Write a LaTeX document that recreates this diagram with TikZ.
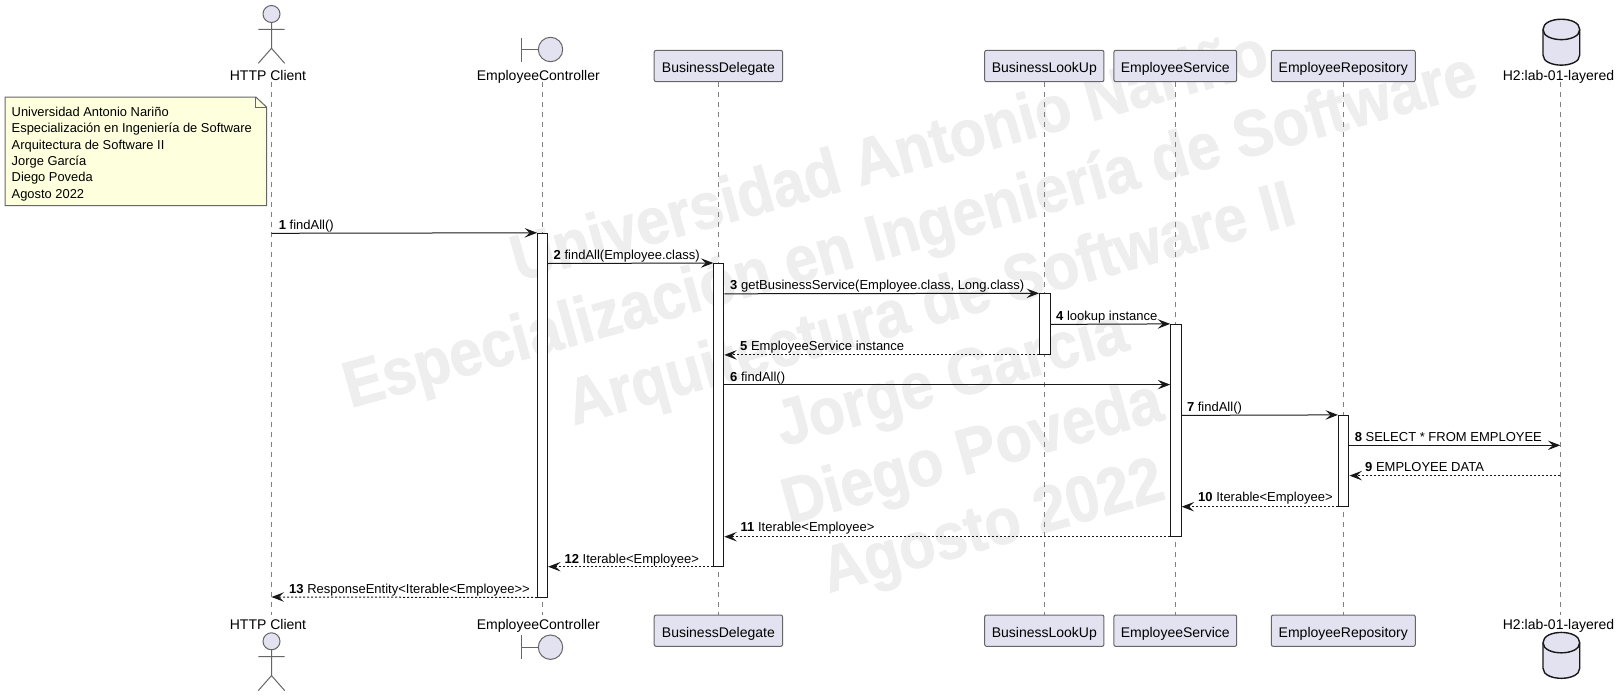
\documentclass[tikz,border=0pt]{standalone}
\usepackage{fontspec}
\setmainfont{Liberation Sans}
\newfontfamily\wmfont{Liberation Sans}[BoldFeatures={FakeStretch=0.91,FakeBold=1.2}]
\usetikzlibrary{arrows.meta}
\definecolor{partfill}{HTML}{E2E2F0}
\definecolor{partline}{HTML}{181818}
\definecolor{softline}{HTML}{666666}
\definecolor{lifeline}{HTML}{808080}
\definecolor{notefill}{HTML}{FEFFDD}
\definecolor{wmark}{HTML}{EEEEEE}
\tikzset{
  x=1pt,y=-1pt,
  part/.style={draw=softline,fill=partfill,line width=1pt,rounded corners=2pt,inner sep=0pt,minimum height=31.4pt,text height=16pt,text depth=2.6pt,font=\fontsize{14}{16}\selectfont},
  lbl/.style={inner sep=0pt,anchor=base,font=\fontsize{14}{16}\selectfont},
  icon/.style={draw=softline,fill=partfill,line width=1pt},
  iconline/.style={draw=softline,line width=1pt},
  dbshape/.style={draw=partline,fill=partfill,line width=1.4pt},
  life/.style={draw=lifeline,line width=1pt,dash pattern=on 5pt off 5pt},
  act/.style={draw=partline,fill=white,line width=1pt,inner sep=0pt},
  msg/.style={draw=partline,line width=1pt,-{Stealth[length=12.5pt,width=9.5pt,inset=5pt]}},
  ret/.style={msg,dash pattern=on 2pt off 2pt},
  mtext/.style={inner sep=0pt,anchor=base west,font=\fontsize{13}{15}\selectfont},
}
\newcommand{\mnum}[1]{\textbf{#1}}
\begin{document}
\begin{tikzpicture}
\useasboundingbox (0,0) rectangle (1620,696);
\fill[white] (0,0) rectangle (1620,696);
% watermark
\node[rotate=15.6,align=center,inner sep=0pt,text=wmark,font=\wmfont\fontsize{65}{76.7}\selectfont\bfseries] (wm) at (942,345)
 {Universidad Antonio Nariño\\Especialización en Ingeniería de Software\\Arquitectura de Software II\\Jorge García\\Diego Poveda\\Agosto 2022};
% head nodes
\coordinate (ht) at (271.5,81.7); \coordinate (hb) at (271.5,615);
\coordinate (ct) at (542.3,81.7); \coordinate (cb) at (542.3,615);
\coordinate (dt) at (1560.3,81.7); \coordinate (db) at (1560.3,615);
\node[part,minimum width=128.4pt] (bdt) at (718.4,66) {BusinessDelegate};
\node[part,minimum width=119.3pt] (blt) at (1044.3,66) {BusinessLookUp};
\node[part,minimum width=122.8pt] (est) at (1175.3,66) {EmployeeService};
\node[part,minimum width=144pt] (ert) at (1343.3,66) {EmployeeRepository};
\node[part,minimum width=128.4pt] (bdb) at (718.4,630.7) {BusinessDelegate};
\node[part,minimum width=119.3pt] (blb) at (1044.3,630.7) {BusinessLookUp};
\node[part,minimum width=122.8pt] (esb) at (1175.3,630.7) {EmployeeService};
\node[part,minimum width=144pt] (erb) at (1343.3,630.7) {EmployeeRepository};
% lifelines
\draw[life] (ht) -- (hb);
\draw[life] (ct) -- (cb);
\draw[life] (bdt.south) -- (bdb.north);
\draw[life] (blt.south) -- (blb.north);
\draw[life] (est.south) -- (esb.north);
\draw[life] (ert.south) -- (erb.north);
\draw[life] (dt) -- (db);
% labels
\node[lbl] (hl1) at (268,80) {HTTP Client};
\node[lbl] (hl2) at (268,629.5) {HTTP Client};
\node[lbl] (cl1) at (538.3,80) {EmployeeController};
\node[lbl] (cl2) at (538.3,629.5) {EmployeeController};
\node[lbl] (dl1) at (1558.5,80) {H2:lab-01-layered};
\node[lbl] (dl2) at (1558.5,629.5) {H2:lab-01-layered};
% actors
\foreach \o in {0,627.3}{
  \draw[icon] (271.5,14+\o) circle[radius=8.5];
  \draw[iconline] (271.5,22.5+\o) -- (271.5,48.3+\o)
     (258.3,29.3+\o) -- (284.7,29.3+\o)
     (258.3,63.3+\o) -- (271.5,48.3+\o) -- (284.7,63.3+\o);
}
% boundaries
\foreach \o in {0,597.7}{
  \draw[iconline] (521.5,37.5+\o) -- (521.5,61.7+\o)
     (521.5,49.5+\o) -- (538.3,49.5+\o);
  \draw[icon] (550.5,49.5+\o) circle[radius=12.2];
}
% databases
\foreach \o in {0,613.2}{
  \draw[dbshape] (1543,29.5+\o) .. controls (1543,15.8+\o) and (1579.7,15.8+\o) .. (1579.7,29.5+\o)
     -- (1579.7,55+\o) .. controls (1579.7,68.5+\o) and (1543,68.5+\o) .. (1543,55+\o) -- cycle;
  \draw[dbshape,fill=none] (1543,29.5+\o) .. controls (1543,43+\o) and (1579.7,43+\o) .. (1579.7,29.5+\o);
}
% note
\node[inner sep=0pt,minimum width=261pt,minimum height=108pt] (note) at (135.9,151.3) {};
\draw[draw=softline,fill=notefill,line width=1pt]
  (note.north west) -- ([xshift=-10.7pt]note.north east) -- ([yshift=-10pt]note.north east) -- (note.south east) -- (note.south west) -- cycle;
\draw[draw=softline,line width=1pt] ([xshift=-10.7pt]note.north east) -- ([xshift=-10.7pt,yshift=-10pt]note.north east) -- ([yshift=-10pt]note.north east);
\node[inner sep=0pt,anchor=north west,align=left,font=\fontsize{12.9}{16.4}\selectfont] (notetext) at (11.5,106.7)
 {Universidad Antonio Nariño\\Especialización en Ingeniería de Software\\Arquitectura de Software II\\Jorge García\\Diego Poveda\\Agosto 2022};
% activations
\node[act,minimum width=10pt,minimum height=363.7pt] (a1) at (542.6,415.15) {};
\node[act,minimum width=10pt,minimum height=302.7pt] (a2) at (718.8,414.85) {};
\node[act,minimum width=10.5pt,minimum height=60.6pt] (a3) at (1044.8,324.1) {};
\node[act,minimum width=10.5pt,minimum height=211.8pt] (a4) at (1175.9,430.3) {};
\node[act,minimum width=10.5pt,minimum height=90.8pt] (a5) at (1343.7,460.8) {};
\coordinate (dbm8) at (1560.3,445.3); \coordinate (dbm9) at (1560.3,475.6);
\coordinate (hm1) at (271.5,233.3); \coordinate (hm13) at (271.5,597);
% messages
\draw[msg] (hm1) -- (a1.north west);
\draw[msg] (a1.east |- 0,263.5) -- (a2.north west);
\draw[msg] (a2.east |- 0,293.8) -- (a3.north west);
\draw[msg] (a3.east |- 0,324.4) -- (a4.north west);
\draw[ret] (a3.south west) -- (a2.east |- a3.south);
\draw[msg] (a2.east |- 0,384.6) -- (a4.west |- 0,384.6);
\draw[msg] (a4.east |- 0,415.4) -- (a5.north west);
\draw[msg] (a5.east |- 0,445.3) -- (dbm8);
\draw[ret] (dbm9) -- (a5.east |- dbm9);
\draw[ret] (a5.south west) -- (a4.east |- a5.south);
\draw[ret] (a4.south west) -- (a2.east |- a4.south);
\draw[ret] (a2.south west) -- (a1.east |- a2.south);
\draw[ret] (a1.south west) -- (hm13);
% message labels
\node[mtext] (t1) at (278.6,229) {\mnum{1} findAll()};
\node[mtext] (t2) at (553.5,259.2) {\mnum{2} findAll(Employee.class)};
\node[mtext] (t3) at (730,289.5) {\mnum{3} getBusinessService(Employee.class, Long.class)};
\node[mtext] (t4) at (1056,320) {\mnum{4} lookup instance};
\node[mtext] (t5) at (740,350) {\mnum{5} EmployeeService instance};
\node[mtext] (t6) at (730,381) {\mnum{6} findAll()};
\node[mtext] (t7) at (1186.8,411) {\mnum{7} findAll()};
\node[mtext] (t8) at (1354.6,441) {\mnum{8} SELECT * FROM EMPLOYEE};
\node[mtext] (t9) at (1365,471.2) {\mnum{9} EMPLOYEE DATA};
\node[mtext] (t10) at (1198,501.8) {\mnum{10} Iterable<Employee>};
\node[mtext] (t11) at (740.5,531.8) {\mnum{11} Iterable<Employee>};
\node[mtext] (t12) at (564.4,563.8) {\mnum{12} Iterable<Employee>};
\node[mtext] (t13) at (289,593.6) {\mnum{13} ResponseEntity<Iterable<Employee>{}>};
\end{tikzpicture}
\end{document}
